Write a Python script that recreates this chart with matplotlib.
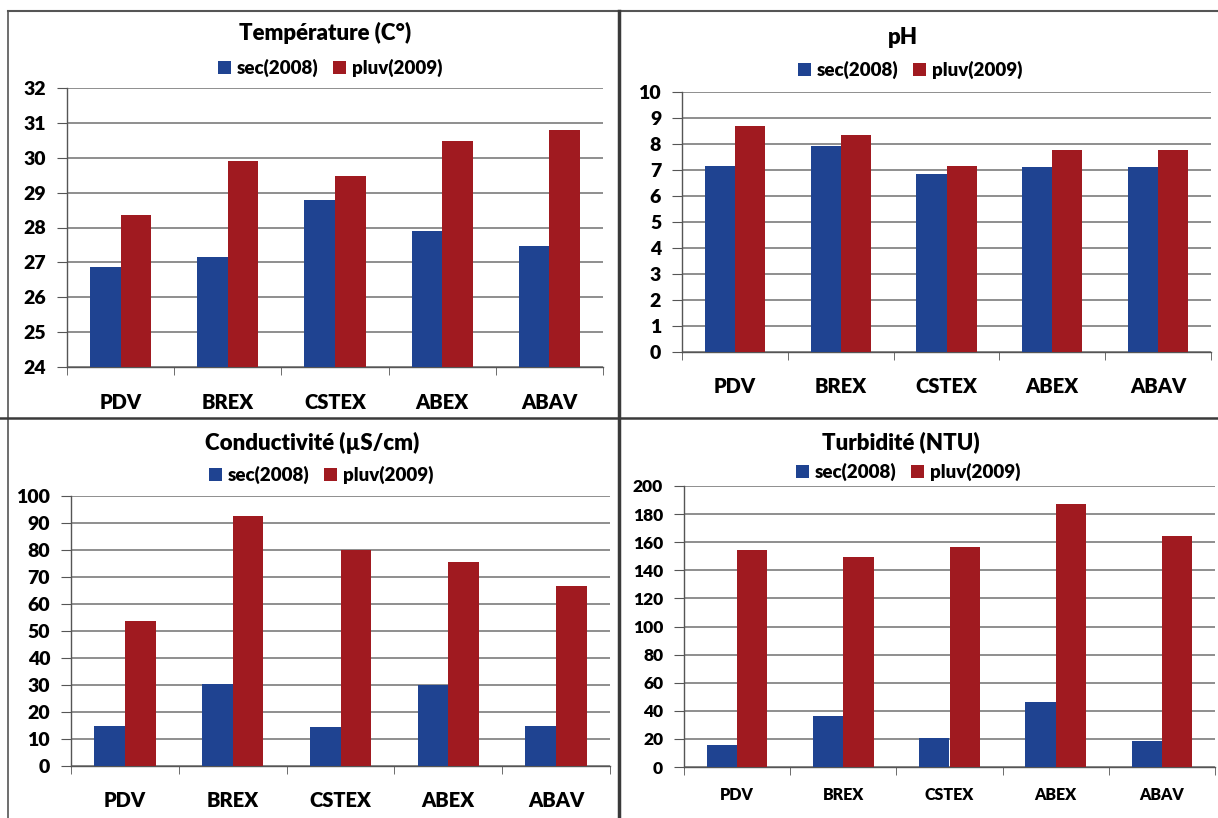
import matplotlib
matplotlib.use("Agg")
import matplotlib.pyplot as plt
from matplotlib.lines import Line2D
from matplotlib.patches import Patch
import numpy as np

plt.rcParams['font.family'] = ['Lato', 'DejaVu Sans']

categories = ["PDV", "BREX", "CSTEX", "ABEX", "ABAV"]
series_names = ["sec(2008)", "pluv(2009)"]

temp_sec = [26.87, 27.16, 28.79, 27.91, 27.46]
temp_pluv = [28.35, 29.90, 29.49, 30.49, 30.81]

ph_sec = [7.17, 7.92, 6.86, 7.12, 7.12]
ph_pluv = [8.71, 8.35, 7.17, 7.78, 7.78]

cond_sec = [14.7, 30.4, 14.3, 29.9, 14.7]
cond_pluv = [53.6, 92.5, 79.9, 75.6, 66.7]

turb_sec = [15.4, 36.5, 20.4, 46.2, 18.5]
turb_pluv = [154.3, 149.5, 156.9, 187.2, 164.2]

titles = ["Température (C°)", "pH", "Conductivité (µS/cm)", "Turbidité (NTU)"]

BLUE = "#1F4391"
RED = "#A01A20"
W, H = 1218, 818
DPI = 100
WT = "heavy"
fig = plt.figure(figsize=(W / DPI, H / DPI), dpi=DPI)


def rect(x0, y0, x1, y1):
    return [x0 / W, 1 - y1 / H, (x1 - x0) / W, (y1 - y0) / H]


def fx(x):
    return x / W


def fy(y):
    return 1 - y / H


panels = [
    dict(data=(temp_sec, temp_pluv), box=(67, 88, 603, 367), ylim=(24, 32), step=1,
         title=titles[0], tpos=(325, 33), lpos=(330, 68), tick_fs=14, cat_fs=14.5, lab_y=402),
    dict(data=(ph_sec, ph_pluv), box=(682, 92, 1211, 352), ylim=(0, 10), step=1,
         title=titles[1], tpos=(903, 37), lpos=(910, 70), tick_fs=14, cat_fs=14.5, lab_y=386),
    dict(data=(cond_sec, cond_pluv), box=(71, 496, 610, 766), ylim=(0, 100), step=10,
         title=titles[2], tpos=(312, 443), lpos=(321, 475), tick_fs=14, cat_fs=14.5, lab_y=800),
    dict(data=(turb_sec, turb_pluv), box=(684, 486, 1215, 767), ylim=(0, 200), step=20,
         title=titles[3], tpos=(901, 442), lpos=(908, 472), tick_fs=12.5, cat_fs=11.5, lab_y=796),
]

x = np.arange(len(categories))
bw = 0.285
for p in panels:
    ax = fig.add_axes(rect(*p["box"]))
    s, r = p["data"]
    lo, hi = p["ylim"]
    ax.bar(x - bw / 2, np.array(s) - lo, bw, bottom=lo, color=BLUE, zorder=3)
    ax.bar(x + bw / 2, np.array(r) - lo, bw, bottom=lo, color=RED, zorder=3)
    ax.set_xlim(-0.5, len(categories) - 0.5)
    ax.set_ylim(lo, hi)
    ticks = np.arange(lo, hi + p["step"] / 2, p["step"])
    ax.set_yticks(ticks)
    ax.set_yticklabels([f"{t:g}" for t in ticks], fontsize=p["tick_fs"], fontweight=WT)
    ax.yaxis.grid(True, color="#707070", lw=1.1, zorder=0)
    ax.set_axisbelow(True)
    for sp in ["top", "right"]:
        ax.spines[sp].set_visible(False)
    ax.spines["left"].set_color("#555555")
    ax.spines["bottom"].set_color("#555555")
    ax.spines["left"].set_linewidth(1.0)
    ax.spines["bottom"].set_linewidth(1.0)
    ax.tick_params(axis="y", length=7, color="#555555", pad=8)
    ax.set_xticks(x)
    ax.set_xticklabels(categories, fontsize=p["cat_fs"], fontweight=WT)
    ax.set_xticks(np.arange(-0.5, len(categories)), minor=True)
    ax.tick_params(axis="x", which="major", length=0,
                   pad=(p["lab_y"] - p["box"][3] - 9) * 0.72)
    ax.tick_params(axis="x", which="minor", length=6, color="#555555")
    fig.text(fx(p["tpos"][0]), fy(p["tpos"][1]), p["title"], ha="center", va="center",
             fontsize=16, fontweight=WT)
    handles = [Patch(facecolor=BLUE), Patch(facecolor=RED)]
    fig.legend(handles, series_names, loc="center", ncol=2, frameon=False,
               bbox_to_anchor=(fx(p["lpos"][0]), fy(p["lpos"][1])),
               prop=dict(size=13.5, weight=WT), handlelength=0.7, handleheight=0.7,
               handletextpad=0.3, columnspacing=0.8)

# panel borders
bc = "#3a3a3a"
fig.add_artist(Line2D([fx(8), fx(8)], [fy(11), fy(818)], color="#555555", lw=1.2))
fig.add_artist(Line2D([fx(8), fx(1218)], [fy(11), fy(11)], color="#555555", lw=1.5))
fig.add_artist(Line2D([fx(619), fx(619)], [fy(11), fy(818)], color=bc, lw=2.5))
fig.add_artist(Line2D([fx(0), fx(1218)], [fy(417.5), fy(417.5)], color=bc, lw=1.8))

fig.savefig("out.png", dpi=DPI)
